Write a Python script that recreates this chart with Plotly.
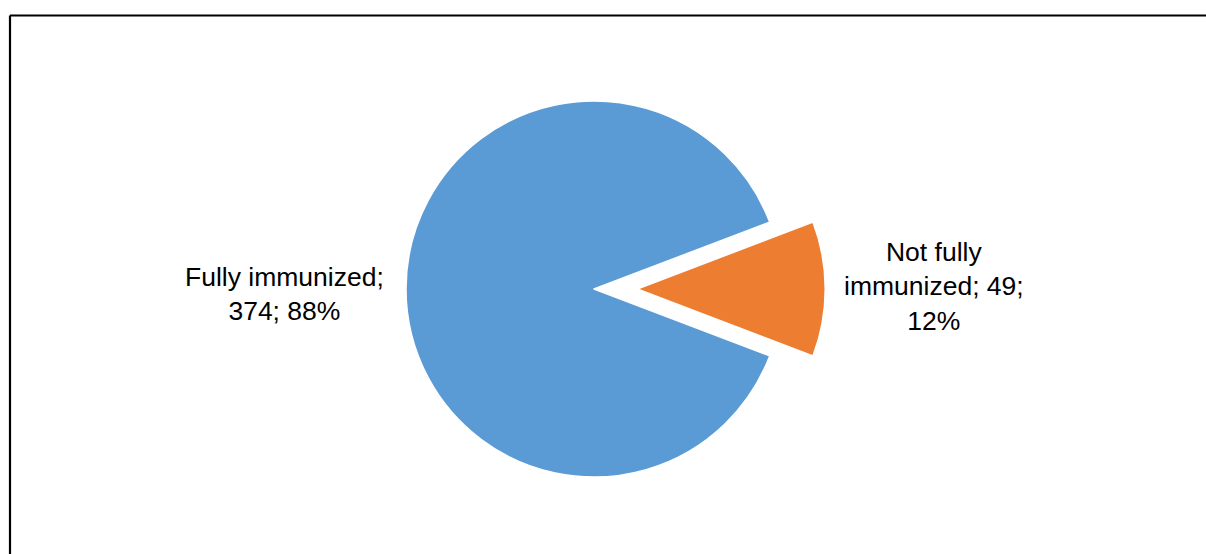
import textwrap
import plotly.graph_objects as go

labels = ["Fully immunized", "Not fully immunized"]
values = [374, 49]
colors = ["#5B9BD5", "#ED7D31"]
pulls = [0, 0.23]

W, H = 1206, 554
total = sum(values)
pcts = [round(v / total * 100) for v in values]
orange_span = values[1] / total * 360
rotation = 90 + orange_span / 2

fig = go.Figure(go.Pie(
    labels=labels, values=values, sort=False, direction="clockwise",
    rotation=rotation, pull=pulls,
    marker=dict(colors=colors, line=dict(color="white", width=1.5)),
    textinfo="none", hoverinfo="label+value+percent", showlegend=False,
    domain=dict(x=[362.75 / W, 825.25 / W], y=[1 - 520.25 / H, 1 - 57.75 / H]),
))

label_pos = [(284.5, 293.5), (934, 286)]
for lab, v, p, (px, py) in zip(labels, values, pcts, label_pos):
    txt = "<br>".join(textwrap.wrap(f"{lab}; {v}; {p}%", 16))
    fig.add_annotation(x=px / W, y=1 - py / H, xref="paper", yref="paper",
                       text=txt, showarrow=False, xanchor="center", yanchor="middle",
                       font=dict(family="Liberation Sans, Arial", size=26.5, color="#000000"))

bx, by = 10 / W, 1 - 15.5 / H
fig.add_shape(type="line", xref="paper", yref="paper", x0=bx, y0=-0.01, x1=bx, y1=by,
              line=dict(color="#000000", width=2.2))
fig.add_shape(type="line", xref="paper", yref="paper", x0=bx, y0=by, x1=1.01, y1=by,
              line=dict(color="#000000", width=2.2))

fig.update_layout(width=W, height=H, margin=dict(l=0, r=0, t=0, b=0),
                  paper_bgcolor="white", plot_bgcolor="white")
fig.write_html("out.html", config={"displayModeBar": False},
               post_script="document.body.style.margin='0';document.body.style.overflow='hidden';")
